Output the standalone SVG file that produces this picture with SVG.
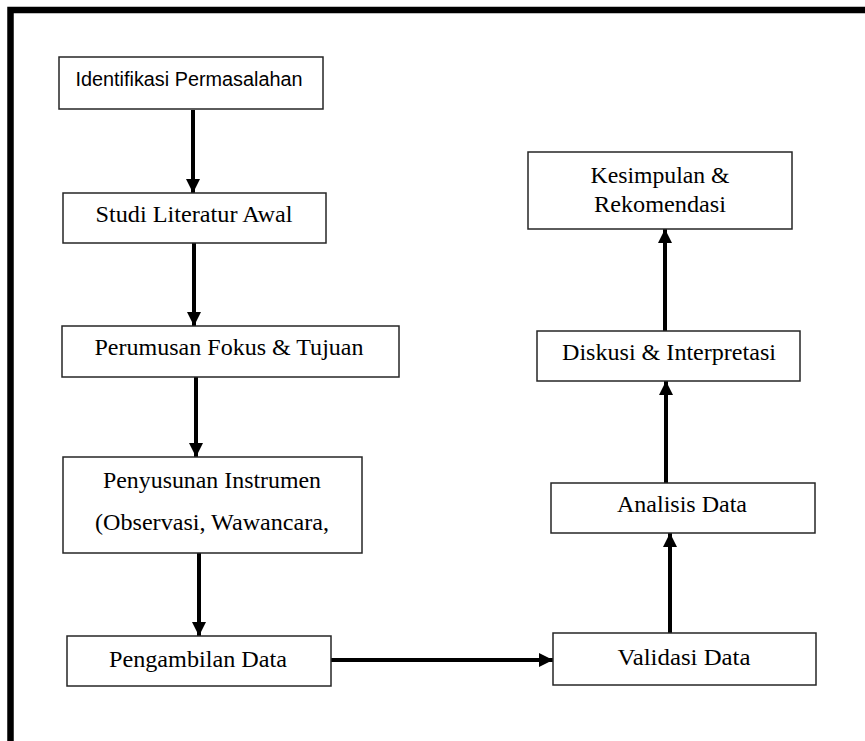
<svg xmlns="http://www.w3.org/2000/svg" width="865" height="741" viewBox="0 0 865 741">
<style>
.box{fill:#fff;stroke:#262626;stroke-width:1.5}
.serif{font-family:"Liberation Serif","Times New Roman",serif;font-size:24px;fill:#000;text-anchor:middle}
.sans{font-family:"Liberation Sans",Arial,sans-serif;font-size:20px;fill:#000;text-anchor:middle}
.conn{stroke:#000;stroke-width:4;fill:none}
</style>
<defs>
<marker id="ah" markerUnits="userSpaceOnUse" markerWidth="15" markerHeight="15" viewBox="0 0 15 15" refX="14" refY="7.5" orient="auto">
<path d="M0,0.5 L14,7.5 L0,14.5 Z" fill="#000"/>
</marker>
</defs>
<rect width="865" height="741" fill="#fff"/>
<rect x="10.5" y="10" width="870" height="750" fill="none" stroke="#000" stroke-width="6.5"/>
<g id="connectors">
<line class="conn" x1="193" y1="110" x2="193" y2="193" marker-end="url(#ah)"/>
<line class="conn" x1="194" y1="243" x2="194" y2="326" marker-end="url(#ah)"/>
<line class="conn" x1="196" y1="377" x2="196" y2="457" marker-end="url(#ah)"/>
<line class="conn" x1="199" y1="553" x2="199" y2="636" stroke-width="3" marker-end="url(#ah)"/>
<line class="conn" x1="331" y1="660" x2="553" y2="660" stroke-width="5" marker-end="url(#ah)"/>
<line class="conn" x1="670" y1="633" x2="670" y2="533" stroke-width="4.5" marker-end="url(#ah)"/>
<line class="conn" x1="666" y1="483" x2="666" y2="381" stroke-width="4.5" marker-end="url(#ah)"/>
<line class="conn" x1="665" y1="331" x2="665" y2="229" stroke-width="4.5" marker-end="url(#ah)"/>
</g>
<g id="n1">
<rect class="box" x="59" y="57" width="264" height="52"/>
<text class="sans" x="189" y="86" textLength="227" lengthAdjust="spacingAndGlyphs">Identifikasi Permasalahan</text>
</g>
<g id="n2">
<rect class="box" x="63" y="193" width="263" height="50"/>
<text class="serif" x="194" y="222" textLength="197" lengthAdjust="spacingAndGlyphs">Studi Literatur Awal</text>
</g>
<g id="n3">
<rect class="box" x="62" y="326" width="337" height="51"/>
<text class="serif" x="229" y="355" textLength="269" lengthAdjust="spacingAndGlyphs">Perumusan Fokus &amp; Tujuan</text>
</g>
<g id="n4">
<rect class="box" x="63" y="457" width="299" height="96"/>
<text class="serif" x="212" y="488" textLength="218" lengthAdjust="spacingAndGlyphs">Penyusunan Instrumen</text>
<text class="serif" x="212" y="530" textLength="234" lengthAdjust="spacingAndGlyphs">(Observasi, Wawancara,</text>
</g>
<g id="n5">
<rect class="box" x="67" y="636" width="264" height="50"/>
<text class="serif" x="198" y="667" textLength="178" lengthAdjust="spacingAndGlyphs">Pengambilan Data</text>
</g>
<g id="n6">
<rect class="box" x="553" y="633" width="263" height="52"/>
<text class="serif" x="684" y="665" textLength="133" lengthAdjust="spacingAndGlyphs">Validasi Data</text>
</g>
<g id="n7">
<rect class="box" x="551" y="483" width="264" height="50"/>
<text class="serif" x="682" y="512" textLength="130" lengthAdjust="spacingAndGlyphs">Analisis Data</text>
</g>
<g id="n8">
<rect class="box" x="537" y="331" width="263" height="50"/>
<text class="serif" x="669" y="360" textLength="214" lengthAdjust="spacingAndGlyphs">Diskusi &amp; Interpretasi</text>
</g>
<g id="n9">
<rect class="box" x="528" y="152" width="264" height="77"/>
<text class="serif" x="660" y="183" textLength="139" lengthAdjust="spacingAndGlyphs">Kesimpulan &amp;</text>
<text class="serif" x="660" y="212" textLength="132" lengthAdjust="spacingAndGlyphs">Rekomendasi</text>
</g>
</svg>
